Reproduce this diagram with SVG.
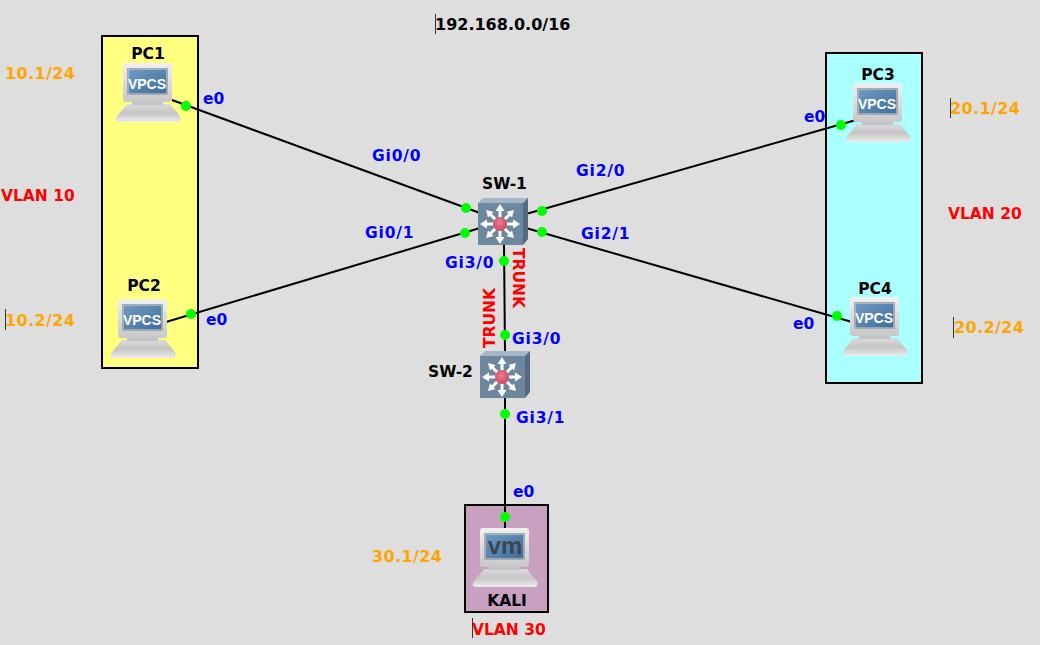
<svg xmlns="http://www.w3.org/2000/svg" width="1040" height="645" viewBox="0 0 1040 645">
<style>
text{font-family:"DejaVu Sans","Liberation Sans",sans-serif;font-weight:700;font-size:15.500px}
.n{fill:#000}.p{fill:#0000ff}.o{fill:#ffa500}.r{fill:#ff0000}
.g{letter-spacing:.8px}
.ip{font-size:16px;letter-spacing:.4px}
.lab{font-size:15.500px}
.v{fill:#fff;font-size:14px;font-family:"Liberation Sans",sans-serif;text-anchor:middle}
.box{stroke:#000;stroke-width:2}
.l{stroke:#000;stroke-width:2;fill:none}
.d{fill:#00ff00}
.cur{stroke:#333;stroke-width:1}
.ar{fill:#fff;stroke:none}
</style>
<defs>
<linearGradient id="mon" x1="0" y1="0" x2="0" y2="1"><stop offset="0" stop-color="#f0f0f0"/><stop offset="1" stop-color="#c8c8c8"/></linearGradient>
<linearGradient id="bas" x1="0" y1="0" x2="0" y2="1"><stop offset="0" stop-color="#dcdcdc"/><stop offset="0.5" stop-color="#c4c4c4"/><stop offset="1" stop-color="#ececec"/></linearGradient>
<linearGradient id="scr" x1="0" y1="0" x2="1" y2="1"><stop offset="0" stop-color="#6f9ac4"/><stop offset="1" stop-color="#3f6d9c"/></linearGradient>
<radialGradient id="ball" cx="0.45" cy="0.4" r="0.6"><stop offset="0" stop-color="#f07a90"/><stop offset="1" stop-color="#c84a60"/></radialGradient>
<g id="host">
<path d="M-7 58 Q-8 55 -5 52 L4 41 H47 L57 53 Q59 57 55 59 H-3 Q-6 59 -7 58Z" fill="url(#bas)"/>
<rect x="9" y="38" width="31" height="4" fill="#c4c4c4"/>
<rect x="0" y="0" width="49" height="39" rx="3" fill="url(#mon)"/>
<rect x="4.500" y="5.500" width="40" height="26" fill="#d8d8d8" stroke="#a8a8a8" stroke-width="1"/>
<rect x="5.500" y="6.500" width="38" height="24" fill="url(#scr)"/>
</g>
<g id="sw">
<path d="M0 5 L5 0 H50 L45 5Z" fill="#a3b6c9"/>
<path d="M45 5 L50 0 V41 L45 47Z" fill="#55697f"/>
<rect x="0" y="5" width="45" height="42" fill="#6d879f"/>
<g stroke="#fff" stroke-width="3" stroke-linecap="butt">
<path d="M22 10 V42 M6 26 H38 M10.500 14.500 L33.500 37.500 M33.500 14.500 L10.500 37.500"/>
</g>
<path class="ar" d="M22 6 L26.500 13 H17.500Z M22 46 L26.500 39 H17.500Z M2 26 L9 21.500 V30.500Z M42 26 L35 21.500 V30.500Z M8 12 L15.500 14 L10 19.500Z M36 12 L34 19.500 L28.500 14Z M8 40 L10 32.500 L15.500 38Z M36 40 L28.500 38 L34 32.500Z"/>
<circle cx="22" cy="26" r="7" fill="url(#ball)"/>
</g>
</defs>
<rect width="1040" height="645" fill="#dedede"/>

<g id="zones">
<rect id="zone-vlan10" class="box" x="102" y="36" width="96" height="332" fill="#ffff80"/>
<rect id="zone-vlan20" class="box" x="826" y="53" width="96" height="330" fill="#aaffff"/>
<rect id="zone-vlan30" class="box" x="465" y="505" width="83" height="107" fill="#c8a0c0"/>
</g>

<g id="connectors">
<path class="l" d="M172 100 L480 213"/>
<path class="l" d="M166 322 L480 228"/>
<path class="l" d="M526 214 L856 120"/>
<path class="l" d="M526 228 L852 322"/>
<path class="l" d="M504 244 L505 352"/>
<path class="l" d="M505 397 V528"/>
</g>

<g id="node-pc1"><use href="#host" x="123" y="63"/><text class="n lab" x="148" y="59" text-anchor="middle">PC1</text><text class="v" x="147" y="89">VPCS</text></g>
<g id="node-pc2"><use href="#host" x="118" y="299"/><text class="n lab" x="144" y="291" text-anchor="middle">PC2</text><text class="v" x="142" y="325">VPCS</text></g>
<g id="node-pc3"><use href="#host" x="853" y="83"/><text class="n lab" x="878" y="80" text-anchor="middle">PC3</text><text class="v" x="877" y="109">VPCS</text></g>
<g id="node-pc4"><use href="#host" x="850" y="297"/><text class="n lab" x="875" y="294" text-anchor="middle">PC4</text><text class="v" x="874" y="323">VPCS</text></g>
<g id="node-kali"><use href="#host" x="480" y="528"/><text class="n" x="507" y="606" text-anchor="middle">KALI</text><text x="505" y="554" text-anchor="middle" fill="#3c4650" style="font-size:24px;font-family:'Liberation Sans',sans-serif">vm</text></g>
<g id="node-sw1"><use href="#sw" x="478" y="198"/><text class="n" x="504.500" y="189" text-anchor="middle">SW-1</text></g>
<g id="node-sw2"><use href="#sw" x="480" y="351"/><text class="n" x="450.500" y="377" text-anchor="middle">SW-2</text></g>

<g id="port-dots" class="d">
<circle cx="186" cy="106" r="5"/><circle cx="191" cy="314" r="5"/><circle cx="841" cy="125" r="5"/><circle cx="837" cy="316" r="5"/>
<circle cx="466" cy="208" r="5"/><circle cx="465" cy="233" r="5"/><circle cx="542" cy="211" r="5"/><circle cx="542" cy="232" r="5"/>
<circle cx="504" cy="261" r="5"/><circle cx="505" cy="335" r="5"/><circle cx="505" cy="414" r="5"/><circle cx="505" cy="517" r="5"/>
</g>

<g id="port-labels">
<text class="p" x="203" y="104">e0</text><text class="p" x="206" y="325">e0</text><text class="p" x="804" y="122">e0</text><text class="p" x="793" y="329">e0</text>
<text class="p g" x="372" y="161">Gi0/0</text><text class="p g" x="365" y="238">Gi0/1</text><text class="p g" x="576" y="176">Gi2/0</text><text class="p g" x="581" y="239">Gi2/1</text>
<text class="p g" x="445" y="268">Gi3/0</text><text class="p g" x="512" y="344">Gi3/0</text><text class="p g" x="516" y="423">Gi3/1</text><text class="p" x="513" y="497">e0</text>
</g>

<g id="annotations">
<text class="n" style="font-size:16px" x="435" y="30">192.168.0.0/16</text><path class="cur" d="M435.500 14 V34"/>
<text class="o ip" x="5" y="79">10.1/24</text>
<text class="o ip" x="5" y="326">10.2/24</text><path class="cur" d="M5.500 309 V330"/>
<text class="o ip" x="950" y="114">20.1/24</text><path class="cur" d="M950.500 98 V118"/>
<text class="o ip" x="954" y="333">20.2/24</text><path class="cur" d="M953.500 317 V338"/>
<text class="o ip" x="372" y="562">30.1/24</text>
<text class="r" x="1" y="201">VLAN 10</text>
<text class="r" x="948" y="219">VLAN 20</text>
<text class="r" x="472" y="635">VLAN 30</text><path class="cur" d="M472.500 618 V638"/>
<text class="r" transform="translate(513 248) rotate(90)">TRUNK</text>
<text class="r" transform="translate(495 348) rotate(-90)">TRUNK</text>
</g>
</svg>
